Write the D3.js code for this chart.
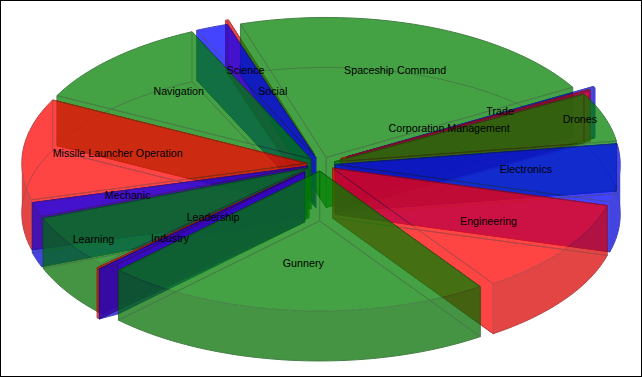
<!DOCTYPE html>
<html>
<head>
<meta charset="utf-8">
<script src="https://cdn.jsdelivr.net/npm/d3@7"></script>
<style>
body { margin: 0; background: #fff; }
text { font-family: "Liberation Sans", sans-serif; font-size: 10.7px; fill: #000; }
</style>
</head>
<body>
<svg id="myGraph" width="642" height="377"></svg>
<script>
// clockwise from the left edge of Spaceship Command
var categories = ["Spaceship Command", "Corporation Management", "Trade", "Drones", "Electronics",
    "Engineering", "Gunnery", "Leadership", "Industry", "Learning", "Mechanic",
    "Missile Launcher Operation", "Navigation", "Social", "Science"];
var values = [129, 1, 1, 34, 40, 67, 132, 2, 1, 37, 10, 70, 64, 11, 1];
var groups = ["green", "blue", "red", "green", "blue", "red", "green", "blue", "red", "green", "blue", "red", "green", "blue", "red"];

var width = 642, height = 377;
var centerX = 321, centerY = 164;
var radiusX = 285, radiusY = 140;
var depth = 50;
var explode = 0.05;
var startDeg = -17.5;

var baseColor = { green: "rgb(0,128,0)", red: "rgb(255,0,0)", blue: "rgb(0,0,255)" };
var sliceAlpha = 0.73;

// the narrow slices sit further out than the rest
var explodeBy = { "Corporation Management": 0.105, "Trade": 0.08, "Leadership": 0.08, "Industry": 0.08, "Science": 0.08 };
// Leadership's rim cuts in towards the edge of Gunnery
var rimInset = { "Leadership": 0.07 };

// labels that the chart pushed away from each other
var labelRadius = { "Corporation Management": 0.49, "Drones": 0.92, "Leadership": 0.5, "Learning": 0.91, "Social": 0.52, "Industry": 0.7 };
var labelShift = {
    "Spaceship Command": [1, -1], "Science": [-11, 5], "Social": [11, 2], "Trade": [-5, -2],
    "Corporation Management": [-19, 6], "Drones": [-3, -1], "Electronics": [3, -1], "Engineering": [3, -1],
    "Gunnery": [1, 0], "Leadership": [10, -4], "Industry": [10, -1], "Learning": [4, 4],
    "Missile Launcher Operation": [-2, -1], "Navigation": [-2, -1], "Mechanic": [-1, 0]
};

var x = d3.scaleLinear().domain([-1, 1]).range([centerX - radiusX, centerX + radiusX]);
var y = d3.scaleLinear().domain([-1, 1]).range([centerY - radiusY, centerY + radiusY]);

var pie = d3.pie().sort(null).value(function(d){ return d.value; })
    .startAngle(startDeg * Math.PI / 180)
    .endAngle((startDeg + 360) * Math.PI / 180);

var slices = pie(categories.map(function(c, i){
    return { name: c, value: values[i], group: groups[i] };
}));

var line = d3.line();
var svg = d3.select("#myGraph");

svg.append("rect").attr("x", 0.5).attr("y", 0.5).attr("width", width - 1).attr("height", height - 1)
    .attr("fill", "#fff").attr("stroke", "#000");

function midAngle(s){
    return (s.startAngle + s.endAngle) / 2;
}

// point on a slice, moved out along its middle angle
function point(s, angle, r, drop){
    var mid = midAngle(s);
    var e = explodeBy[s.data.name] || explode;
    return [
        x(r * Math.sin(angle) + e * Math.sin(mid)),
        y(-r * Math.cos(angle) - e * Math.cos(mid)) + drop
    ];
}

// point on the rim of a slice
function rimPoint(s, angle, drop){
    var t = (angle - s.startAngle) / (s.endAngle - s.startAngle);
    return point(s, angle, 1 - (rimInset[s.data.name] || 0) * (1 - t), drop);
}

function arcPoints(s, from, to, drop){
    var n = Math.max(2, Math.ceil(Math.abs(to - from) / 0.03));
    return d3.range(n + 1).map(function(i){
        return rimPoint(s, from + (to - from) * i / n, drop);
    });
}

function drawSlice(s){
    var name = s.data.group;
    var col = baseColor[name];
    var rimCol = d3.rgb(col).darker(0.45).formatRgb();
    var edgeCol = d3.rgb(col).darker(1.3).formatRgb();
    var a0 = s.startAngle, a1 = s.endAngle;
    var apex = point(s, 0, 0, 0), apexLow = point(s, 0, 0, depth);

    // the slice is see-through as a whole, not face by face
    var g = svg.append("g").attr("opacity", sliceAlpha);

    function face(pts, fill){
        g.append("path").attr("d", line(pts) + "Z").attr("fill", fill);
    }
    function edge(pts){
        g.append("path").attr("d", line(pts)).attr("fill", "none")
            .attr("stroke", edgeCol).attr("stroke-width", 1);
    }

    var wall0 = [apex, rimPoint(s, a0, 0), rimPoint(s, a0, depth), apexLow];
    var wall1 = [apex, rimPoint(s, a1, 0), rimPoint(s, a1, depth), apexLow];
    var topFace = [apex].concat(arcPoints(s, a0, a1, 0));
    var floor = [apexLow].concat(arcPoints(s, a0, a1, depth));

    face(wall0, col);
    face(wall1, col);

    // only the part of the rim that faces the viewer is filled
    var lo = Math.max(a0, Math.PI / 2), hi = Math.min(a1, Math.PI * 1.5);
    if (lo < hi){
        face(arcPoints(s, lo, hi, 0).concat(arcPoints(s, hi, lo, depth)), rimCol);
    }
    face(topFace, col);

    edge(wall0.concat([wall0[0]]));
    edge(wall1.concat([wall1[0]]));
    edge(topFace.concat([topFace[0]]));
    edge(floor.concat([floor[0]]));
}

// back to front
slices.slice().sort(function(a, b){
    return Math.cos(midAngle(b)) - Math.cos(midAngle(a));
}).forEach(drawSlice);

function labelPoint(d){
    var r = labelRadius[d.data.name] || 0.66;
    var p = point(d, midAngle(d), r, 0);
    var shift = labelShift[d.data.name] || [0, 0];
    return [p[0] + shift[0], p[1] + shift[1]];
}

svg.selectAll("text.label")
    .data(slices)
    .enter()
    .append("text")
    .attr("class", "label")
    .attr("text-anchor", "middle")
    .attr("dy", "0.35em")
    .attr("x", function(d){ return labelPoint(d)[0]; })
    .attr("y", function(d){ return labelPoint(d)[1]; })
    .text(function(d){ return d.data.name; });
</script>
</body>
</html>
